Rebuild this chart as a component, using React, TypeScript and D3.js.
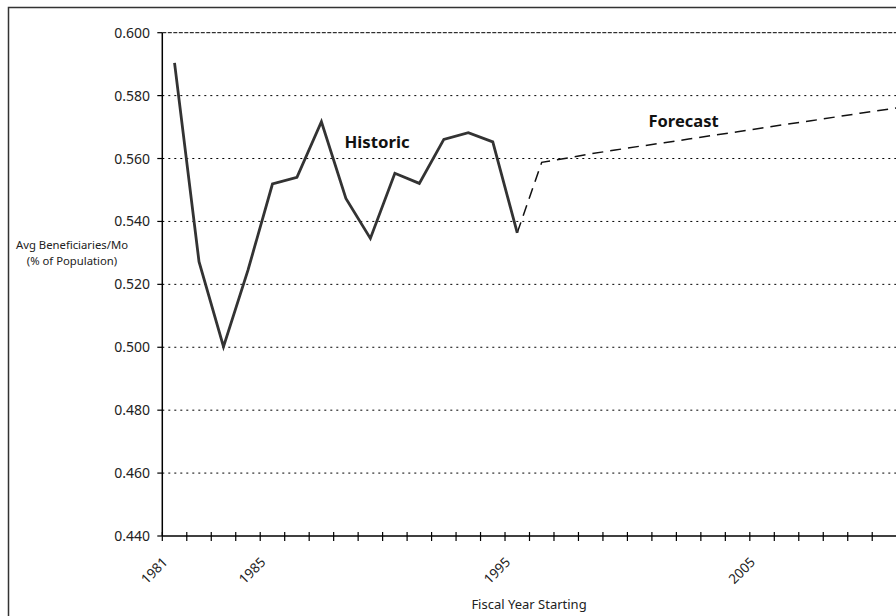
import React from "react";
import * as d3 from "d3";

const historicYears = [1981, 1982, 1983, 1984, 1985, 1986, 1987, 1988, 1989, 1990, 1991, 1992, 1993, 1994, 1995];
const historicValues = [0.5904, 0.5272, 0.5002, 0.5245, 0.5519, 0.554, 0.5717, 0.5473, 0.5346, 0.5553, 0.5521, 0.5661, 0.5682, 0.5653, 0.5364];

const forecastYears = [1995, 1996, 1997, 1998, 1999, 2000, 2001, 2002, 2003, 2004, 2005, 2006, 2007, 2008, 2009, 2010, 2011];
const forecastValues = [0.5364, 0.5588, 0.5601, 0.5615, 0.5627, 0.5639, 0.565, 0.5662, 0.5674, 0.5685, 0.5697, 0.5709, 0.572, 0.5732, 0.5744, 0.5755, 0.5767];

const yTicks = [0.44, 0.46, 0.48, 0.5, 0.52, 0.54, 0.56, 0.58, 0.6];
const xLabelYears = [1981, 1985, 1995, 2005];
const firstYear = 1981;
const lastYear = 2015;

const FONT = "'Noto Sans', 'Open Sans', sans-serif";

export default function App() {
  const W = 896;
  const H = 616;
  const left = 162.3;
  const step = 24.48;
  const x = d3
    .scaleLinear()
    .domain([firstYear - 0.5, lastYear + 0.5])
    .range([left, left + step * (lastYear - firstYear + 1)]);
  const y = d3.scaleLinear().domain([0.44, 0.6]).range([536, 32.7]);

  const line = d3
    .line<[number, number]>()
    .x((d) => x(d[0]))
    .y((d) => y(d[1]));

  const hist = historicYears.map((yr, i) => [yr, historicValues[i]] as [number, number]);
  const fc = forecastYears.map((yr, i) => [yr, forecastValues[i]] as [number, number]);

  const tickBounds = d3.range(firstYear - 0.5, lastYear + 1, 1);
  const x0 = x.range()[0];
  const x1 = x.range()[1];
  const yBase = y(0.44);

  return (
    <svg
      width={W}
      height={H}
      style={{ position: "absolute", left: 0, top: 0, display: "block" }}
      fontFamily={FONT}
    >
      <rect x={0} y={0} width={W} height={H} fill="#fff" />
      <rect x={8.5} y={7.5} width={W + 20} height={H + 20} fill="none" stroke="#333" strokeWidth={1.5} />

      {/* gridlines */}
      {yTicks.slice(1).map((t) => (
        <line
          key={"g" + t}
          x1={x0}
          x2={x1}
          y1={y(t)}
          y2={y(t)}
          stroke="#000"
          strokeWidth={1}
          strokeDasharray={t === 0.6 ? "4,1.5" : "2,4"}
        />
      ))}

      {/* y axis */}
      <line x1={x0} x2={x0} y1={y(0.6)} y2={yBase} stroke="#000" strokeWidth={1.5} />
      {yTicks.map((t) => (
        <g key={"yt" + t}>
          <line x1={x0 - 5} x2={x0} y1={y(t)} y2={y(t)} stroke="#000" strokeWidth={1.2} />
          <text x={150} y={y(t) + 5} textAnchor="end" fontSize={14} fill="#222">
            {d3.format(".3f")(t)}
          </text>
        </g>
      ))}

      {/* x axis */}
      <line x1={x0} x2={x1} y1={yBase} y2={yBase} stroke="#000" strokeWidth={1.5} />
      {tickBounds.map((b) => (
        <line key={"xt" + b} x1={x(b)} x2={x(b)} y1={yBase - 4} y2={yBase + 5} stroke="#000" strokeWidth={1.2} />
      ))}
      {xLabelYears.map((yr) => (
        <text
          key={"xl" + yr}
          transform={`translate(${x(yr) - 6},${yBase + 27}) rotate(-45)`}
          textAnchor="end"
          fontSize={13.5}
          fill="#222"
        >
          {yr}
        </text>
      ))}

      {/* axis titles */}
      <text x={529} y={609} textAnchor="middle" fontSize={13} fill="#222">
        Fiscal Year Starting
      </text>
      <text x={72} y={249} textAnchor="middle" fontSize={11.3} fill="#222">
        Avg Beneficiaries/Mo
      </text>
      <text x={72} y={265} textAnchor="middle" fontSize={11.3} fill="#222">
        (% of Population)
      </text>

      {/* series */}
      <path d={line(fc) || ""} fill="none" stroke="#111" strokeWidth={1.5} strokeDasharray="11,7" />
      <path d={line(hist) || ""} fill="none" stroke="#333" strokeWidth={2.8} strokeLinejoin="miter" />

      {/* labels */}
      <text x={344.5} y={148.3} fontSize={16.8} fontWeight="bold" fill="#111">
        Historic
      </text>
      <text x={648.5} y={127} fontSize={16.5} fontWeight="bold" fill="#111">
        Forecast
      </text>
    </svg>
  );
}
